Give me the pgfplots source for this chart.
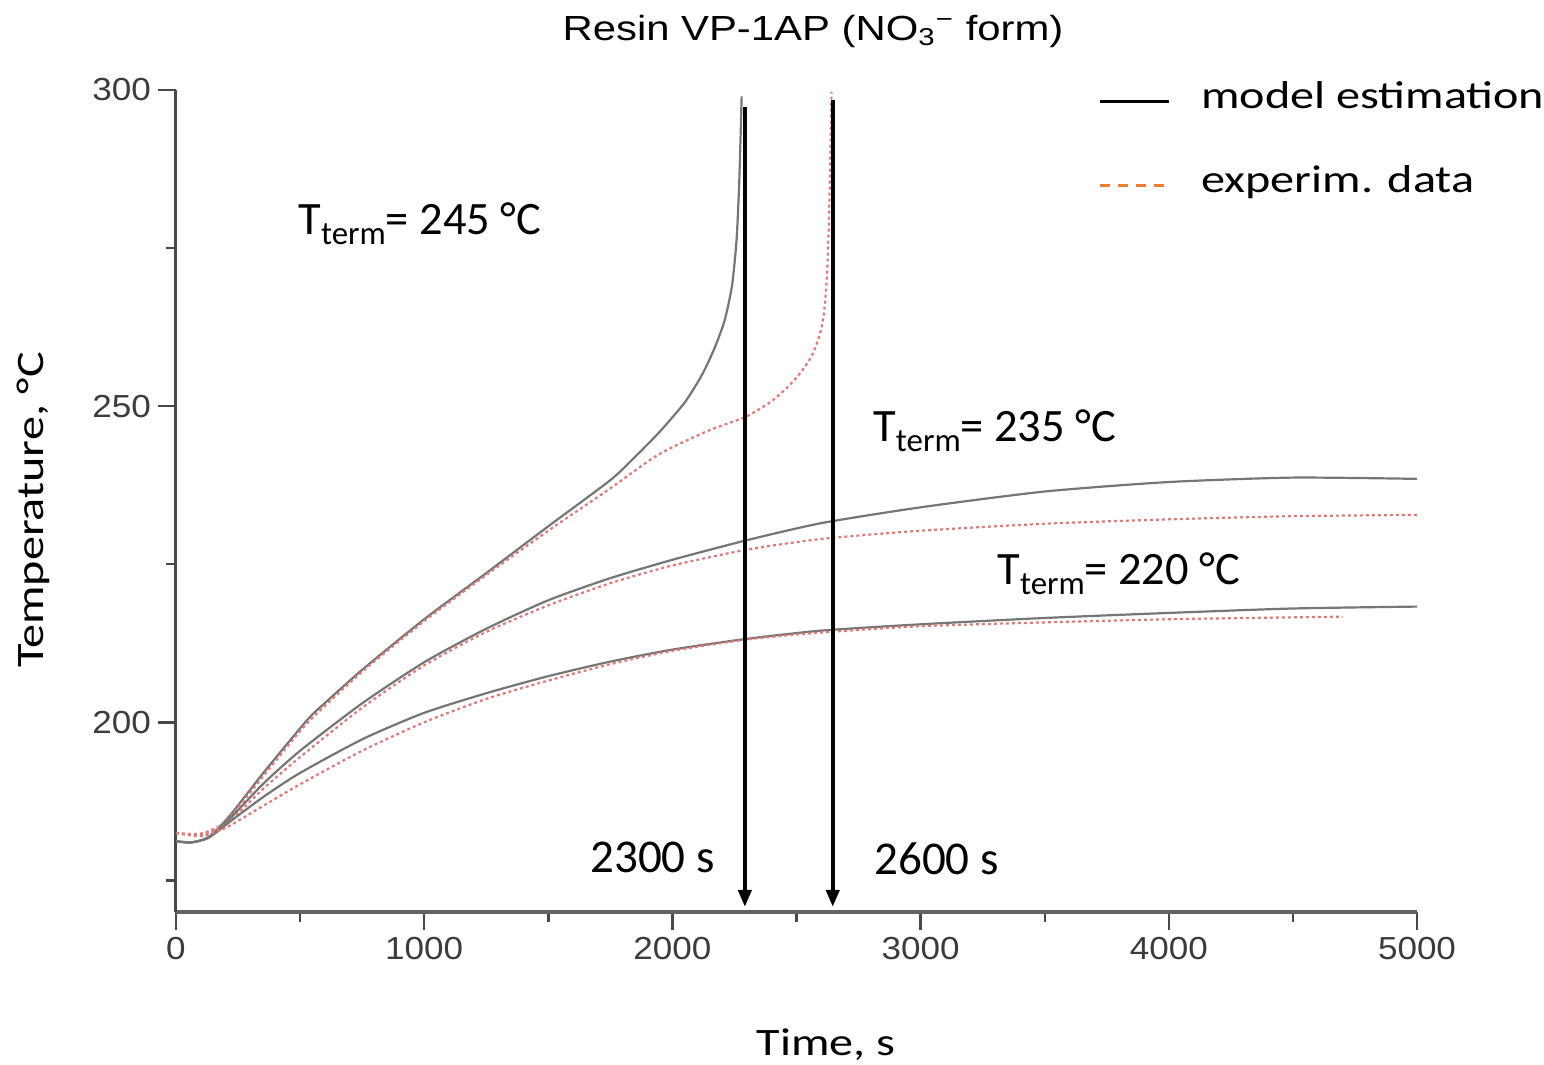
\documentclass[border=0pt]{standalone}
\usepackage{fontspec}
\setmainfont{Carlito}
\newfontfamily\arialf{Liberation Sans}
\usepackage{pgfplots}
\pgfplotsset{compat=1.18}
\usetikzlibrary{arrows.meta}
\definecolor{modelgray}{RGB}{118,118,118}
\definecolor{exppink}{RGB}{226,120,120}
\definecolor{legorange}{RGB}{237,125,49}
\definecolor{axgray}{RGB}{72,72,72}
\definecolor{ticklab}{RGB}{60,60,60}

\begin{document}
\begin{tikzpicture}
\begin{axis}[
  scale only axis, width=620.5bp, height=411bp,
  xmin=0, xmax=5000, ymin=170, ymax=300,
  axis lines=left,
  x axis line style={-, line width=2bp, color=axgray!85},
  y axis line style={-, line width=1.5bp, color=axgray},
  xtick={0,1000,...,5000}, minor xtick={500,1500,...,4500},
  ytick={200,250,300}, minor ytick={175,225,275},
  tick align=outside, major tick length=9bp, minor tick length=5bp,
  every tick/.style={axgray, line width=1.2bp},
  ticklabel style={font=\arialf\fontsize{16}{18}\selectfont, text=ticklab},
  xticklabel={\scalebox{1.1}[1]{\pgfmathprintnumber{\tick}}},
  yticklabel={\scalebox{1.1}[1]{\pgfmathprintnumber{\tick}}},
  /pgf/number format/assume math mode=true,
  /pgf/number format/1000 sep={},
  scaled ticks=false,
  title={\scalebox{1.2}[1]{Resin VP-1AP (NO\textsubscript{3}\textsuperscript{−} form)}},
  title style={font=\arialf\fontsize{17.5}{20}\selectfont, at={(axis description cs:0.5133,1.0570)}, anchor=center},
  xlabel={\scalebox{1.24}[1]{Time, s}},
  xlabel style={font=\fontsize{19.5}{22}\selectfont, at={(axis description cs:0.5238,-0.1618)}, anchor=center},
  ylabel={\scalebox{1.24}[1]{Temperature, °C}},
  ylabel style={font=\fontsize{19.5}{22}\selectfont, at={(axis description cs:-0.1152,0.489)}, anchor=center},
  legend style={draw=none, fill=none, at={(axis description cs:0.7429,1.0146)}, anchor=north west,
    inner sep=0pt, font=\fontsize{19.5}{22}\selectfont,
    nodes={inner sep=0pt, text height=15bp, text depth=5bp},
    row sep=22bp, column sep=15.5bp},
  legend cell align=left,
  legend image code/.code={\draw[#1] (0bp,-1.5bp) -- (34.5bp,-1.5bp);},
  clip=false,
]
% legend entries
\addlegendimage{black, line width=1.5bp}
\addlegendentry{\scalebox{1.24}[1]{model estimation}}
\addlegendimage{legorange, line width=1.5bp, dash pattern=on 5bp off 4bp}
\addlegendentry{\scalebox{1.24}[1]{experim. data}}

% model, T_term = 245
\addplot[modelgray, line width=1.1bp, smooth, tension=0.4, forget plot] coordinates {
(0,181.2) (60,181) (130,181.8) (218,185.3) (352,192) (527,200.3) (607,203.3)
(750,208.3) (1000,216.3) (1250,223.6) (1500,231) (1750,238.3) (1850,242)
(1950,246) (2050,250.6) (2120,255) (2170,259.2) (2210,263.5) (2240,269)
(2258,276) (2268,284) (2275,293) (2279,299)
};
% experiment, T_term = 245
\addplot[exppink, line width=1.1bp, dash pattern=on 1.5bp off 1.5bp, smooth, tension=0.4, forget plot] coordinates {
(0,182.5) (100,182.4) (200,184.3) (352,191.5) (527,199.8) (750,208) (1000,216)
(1250,223.3) (1500,230.3) (1750,237) (1910,241.5) (2000,243.5) (2150,246.2)
(2300,248.4) (2400,250.8) (2474,253.4) (2530,256) (2567,258.4) (2595,261.5)
(2610,264.5) (2622,270) (2630,278) (2636,289) (2641,299.7)
};
% model, T_term = 235
\addplot[modelgray, line width=1.1bp, smooth, tension=0.4, forget plot] coordinates {
(0,181.2) (60,181) (130,181.8) (218,184.8) (352,190.3) (500,195.5) (750,203)
(1000,209.5) (1250,214.8) (1500,219.3) (1750,222.8) (2000,225.7) (2300,228.8)
(2600,231.5) (3000,234) (3500,236.5) (4000,238) (4500,238.7) (5000,238.5)
};
% experiment, T_term = 235
\addplot[exppink, line width=1.1bp, dash pattern=on 1.5bp off 1.5bp, smooth, tension=0.4, forget plot] coordinates {
(0,182.5) (100,182.2) (200,183.8) (352,189.5) (500,194.5) (750,202.3) (1000,209)
(1250,214.3) (1500,218.5) (1750,222) (2000,224.8) (2300,227.3) (2600,229)
(3000,230.3) (3500,231.4) (4000,232.1) (4500,232.6) (5000,232.8)
};
% model, T_term = 220
\addplot[modelgray, line width=1.1bp, smooth, tension=0.4, forget plot] coordinates {
(0,181.2) (60,181) (130,181.7) (218,184.3) (352,188.2) (500,192) (755,197.4)
(1000,201.5) (1250,204.6) (1500,207.3) (1750,209.6) (2000,211.5) (2300,213.2)
(2600,214.5) (3000,215.5) (3500,216.5) (4000,217.3) (4500,218) (5000,218.3)
};
% experiment, T_term = 220
\addplot[exppink, line width=1.1bp, dash pattern=on 1.5bp off 1.5bp, smooth, tension=0.4, forget plot] coordinates {
(0,182.5) (100,182) (200,183.3) (352,186.8) (500,190.2) (750,195.5) (1000,200)
(1250,203.7) (1500,206.6) (1750,209.2) (2000,211.3) (2300,213.1) (2600,214.2)
(3000,215.2) (3500,215.8) (4000,216.3) (4500,216.6) (4700,216.7)
};

% arrows
\draw[black, line width=2bp, -{Triangle[length=8.5bp,width=6.5bp]}] (axis cs:2292,297.3) -- (axis cs:2292,170.8);
\draw[black, line width=2bp, -{Triangle[length=8.5bp,width=6.5bp]}] (axis cs:2646,298.4) -- (axis cs:2646,170.8);

% annotations
\node[anchor=base west, inner sep=0pt, font=\fontsize{23.3}{27}\selectfont] at (axis cs:492,277.1)
  {T\raisebox{-5bp}{\fontsize{16.5}{18}\selectfont term}= 245 °C};
\node[anchor=base west, inner sep=0pt, font=\fontsize{23.3}{27}\selectfont] at (axis cs:2808,244.4)
  {T\raisebox{-5bp}{\fontsize{16.5}{18}\selectfont term}= 235 °C};
\node[anchor=base west, inner sep=0pt, font=\fontsize{23.3}{27}\selectfont] at (axis cs:3308,221.8)
  {T\raisebox{-5bp}{\fontsize{16.5}{18}\selectfont term}= 220 °C};
\node[anchor=base west, inner sep=0pt, font=\fontsize{23.6}{27}\selectfont] at (axis cs:1668,176.3) {2300 s};
\node[anchor=base west, inner sep=0pt, font=\fontsize{23.6}{27}\selectfont] at (axis cs:2812,176.0) {2600 s};
\end{axis}
\pgfresetboundingbox
\useasboundingbox (-88bp,-76.5bp) rectangle (684bp,456bp);
\end{tikzpicture}
\end{document}
